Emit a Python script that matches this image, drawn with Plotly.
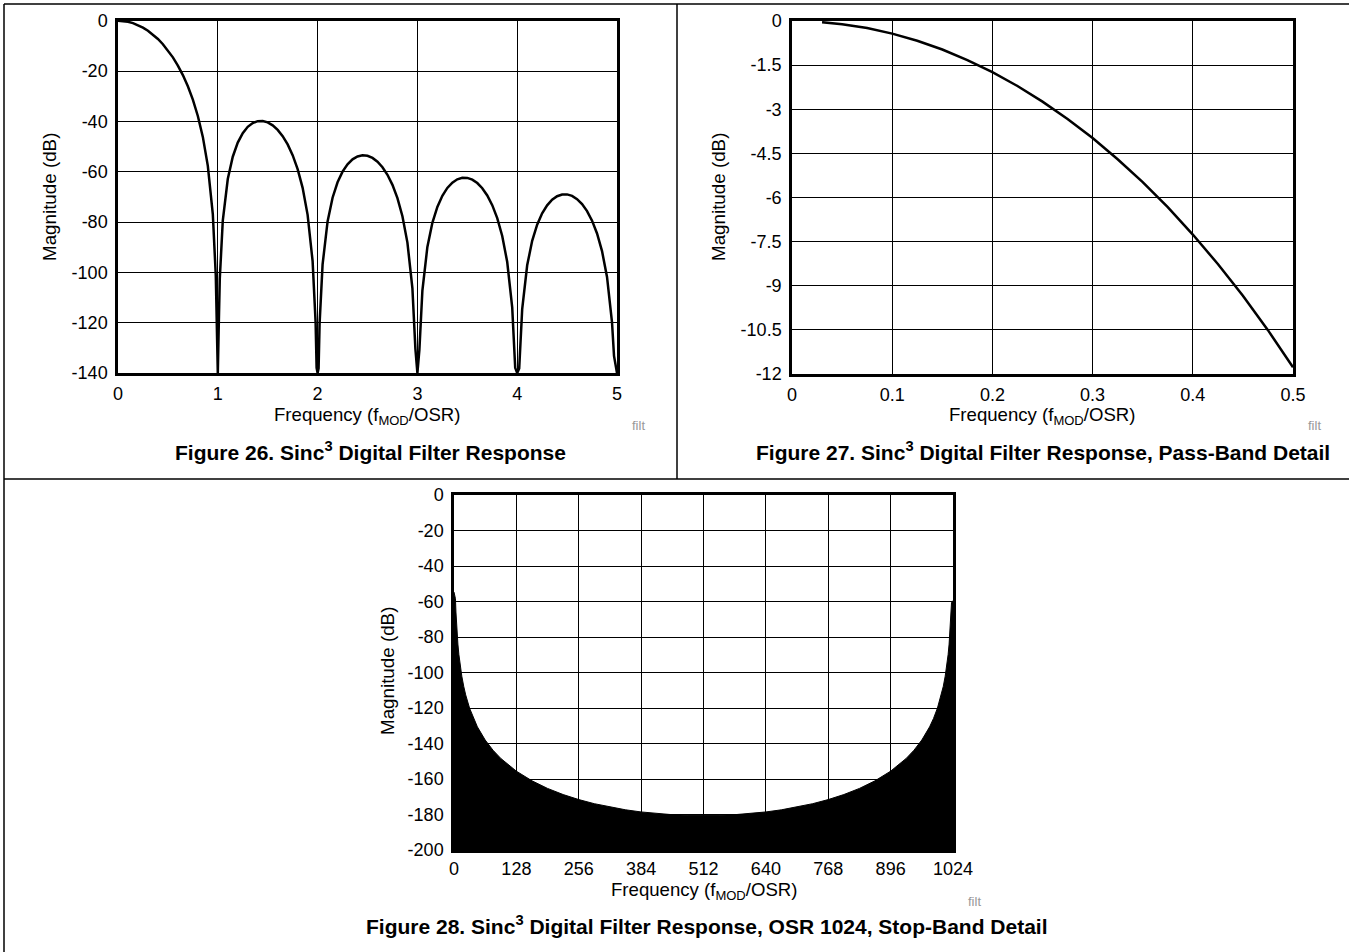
import plotly.graph_objects as go

# ---------------- data ----------------
# Figure 26: Sinc^3 response, 0..5 x (fMOD/OSR), dB (clipped at -140)
f26_freq = [0, 0.05, 0.1, 0.15, 0.2, 0.25, 0.3, 0.35, 0.4, 0.45, 0.5, 0.55, 0.6, 0.65, 0.7, 0.75,
            0.8, 0.85, 0.9, 0.95, 0.98, 0.99, 1.0,
            1.01, 1.02, 1.05, 1.1, 1.15, 1.2, 1.25, 1.3, 1.35, 1.4, 1.45, 1.5, 1.55, 1.6, 1.65, 1.7,
            1.75, 1.8, 1.85, 1.9, 1.95, 1.98, 1.99, 2.0,
            2.01, 2.02, 2.05, 2.1, 2.15, 2.2, 2.25, 2.3, 2.35, 2.4, 2.45, 2.5, 2.55, 2.6, 2.65, 2.7,
            2.75, 2.8, 2.85, 2.9, 2.95, 2.98, 3.0,
            3.02, 3.05, 3.1, 3.15, 3.2, 3.25, 3.3, 3.35, 3.4, 3.45, 3.5, 3.55, 3.6, 3.65, 3.7, 3.75,
            3.8, 3.85, 3.9, 3.95, 3.98, 4.0,
            4.02, 4.05, 4.1, 4.15, 4.2, 4.25, 4.3, 4.35, 4.4, 4.45, 4.5, 4.55, 4.6, 4.65, 4.7, 4.75,
            4.8, 4.85, 4.9, 4.95, 4.97, 5.0]
f26_mag = [0, -0.11, -0.43, -0.97, -1.74, -2.74, -3.98, -5.48, -7.26, -9.34, -11.77, -14.57, -17.83,
           -21.61, -26.06, -31.36, -37.86, -46.17, -57.68, -76.83, -101.43, -119.75, -140,
           -120.27, -102.47, -79.44, -62.91, -54.05, -48.43, -44.67, -42.18, -40.66, -39.91, -39.83,
           -40.39, -41.57, -43.39, -45.89, -49.18, -53.44, -58.99, -66.44, -77.15, -95.57, -119.76,
           -137.94, -140,
           -138.20, -120.28, -96.87, -79.76, -70.35, -64.22, -59.99, -57.05, -55.10, -53.95, -53.50,
           -53.70, -54.54, -56.04, -58.23, -61.23, -65.22, -70.51, -77.70, -88.17, -106.36, -130.41,
           -140,
           -130.76, -107.23, -89.91, -80.31, -73.99, -69.57, -66.46, -64.34, -63.03, -62.42, -62.47,
           -63.16, -64.52, -66.58, -69.44, -73.30, -78.46, -85.54, -95.89, -113.96, -137.95, -140,
           -138.21, -114.62, -97.20, -87.49, -81.07, -76.56, -73.36, -71.15, -69.75, -69.05, -69.02,
           -69.63, -70.90, -72.89, -75.67, -79.46, -84.55, -91.55, -101.84, -119.84, -133.19, -140]

# Figure 27: pass-band detail
f27_freq = [0.03, 0.05, 0.075, 0.1, 0.125, 0.15, 0.175, 0.2, 0.225, 0.25, 0.275, 0.3, 0.325,
            0.35, 0.375, 0.4, 0.425, 0.45, 0.475, 0.5]
f27_mag = [-0.04, -0.11, -0.24, -0.43, -0.67, -0.97, -1.33, -1.74, -2.21, -2.74, -3.33, -3.98,
           -4.70, -5.48, -6.33, -7.26, -8.26, -9.34, -10.51, -11.77]

# Figure 28: OSR 1024 stop-band detail (upper envelope of the dense nulls, filled below)
f28_freq = [0, 3, 4, 5, 6, 8, 10, 12, 16, 20, 24, 32, 40, 48, 64, 80, 96, 128, 160, 192, 224,
            256, 288, 320, 352, 384, 416, 448, 480, 512, 544, 576, 608, 640, 672, 704, 736, 768,
            800, 832, 864, 896, 928, 944, 960, 976, 984, 992, 1000, 1004, 1008, 1012, 1014, 1016,
            1018, 1019, 1020, 1021, 1024]
f28_env = [-54.7, -58.46, -65.95, -71.77, -76.52, -84.01, -89.83, -94.58, -102.07, -107.88,
           -112.62, -120.10, -125.89, -130.61, -138.03, -143.75, -148.39, -155.59, -161.02,
           -165.30, -168.76, -171.59, -173.91, -175.81, -177.35, -178.56, -179.47, -180.11,
           -180.49, -180.62, -180.49, -180.11, -179.47, -178.56, -177.35, -175.81, -173.91,
           -171.59, -168.76, -165.30, -161.02, -155.59, -148.39, -143.75, -138.03, -130.61,
           -125.89, -120.10, -112.62, -107.88, -102.07, -94.58, -89.83, -84.01, -76.52, -71.77,
           -65.95, -60.5, -59.5]

# ticks
x26_ticks = [0, 1, 2, 3, 4, 5]
x26_labels = ["0", "1", "2", "3", "4", "5"]
y26_ticks = [0, -20, -40, -60, -80, -100, -120, -140]
y26_labels = ["0", "-20", "-40", "-60", "-80", "-100", "-120", "-140"]
x27_ticks = [0, 0.1, 0.2, 0.3, 0.4, 0.5]
x27_labels = ["0", "0.1", "0.2", "0.3", "0.4", "0.5"]
y27_ticks = [0, -1.5, -3, -4.5, -6, -7.5, -9, -10.5, -12]
y27_labels = ["0", "-1.5", "-3", "-4.5", "-6", "-7.5", "-9", "-10.5", "-12"]
x28_ticks = [0, 128, 256, 384, 512, 640, 768, 896, 1024]
x28_labels = ["0", "128", "256", "384", "512", "640", "768", "896", "1024"]
y28_ticks = [0, -20, -40, -60, -80, -100, -120, -140, -160, -180, -200]
y28_labels = ["0", "-20", "-40", "-60", "-80", "-100", "-120", "-140", "-160", "-180", "-200"]

captions = ["Figure 26. Sinc<sup>3</sup> Digital Filter Response",
            "Figure 27. Sinc<sup>3</sup> Digital Filter Response, Pass-Band Detail",
            "Figure 28. Sinc<sup>3</sup> Digital Filter Response, OSR 1024, Stop-Band Detail"]
x_title = "Frequency (f<sub>MOD</sub>/OSR)"
y_title = "Magnitude (dB)"

# ---------------- layout helpers ----------------
W, H = 1349, 952
FONT = "Liberation Sans, Arial, Helvetica, sans-serif"


def px(x):
    return x / W


def py(y):
    return 1 - y / H


fig = go.Figure()

line_style = dict(color="black", width=2.5)
fig.add_trace(go.Scatter(x=f26_freq, y=f26_mag, mode="lines", line=line_style,
                         xaxis="x", yaxis="y", showlegend=False, hoverinfo="skip"))
fig.add_trace(go.Scatter(x=f27_freq, y=f27_mag, mode="lines", line=line_style,
                         xaxis="x2", yaxis="y2", showlegend=False, hoverinfo="skip"))
y28_floor = y28_ticks[-1]
fig.add_trace(go.Scatter(x=f28_freq, y=[y28_floor] * len(f28_freq), mode="lines",
                         line=dict(color="black", width=0), xaxis="x3", yaxis="y3",
                         showlegend=False, hoverinfo="skip"))
fig.add_trace(go.Scatter(x=f28_freq, y=f28_env, mode="lines", line=dict(color="black", width=1),
                         fill="tonexty", fillcolor="black",
                         xaxis="x3", yaxis="y3", showlegend=False, hoverinfo="skip"))


def axis(domain, rng, tv, tt, anchor, standoff):
    return dict(domain=domain, range=rng, tickvals=tv, ticktext=tt, anchor=anchor,
                automargin=False,
                showline=True, mirror=True, linecolor="black", linewidth=2.5,
                showgrid=True, gridcolor="black", gridwidth=1, zeroline=False,
                ticks="", ticklabelstandoff=standoff,
                tickfont=dict(family=FONT, size=18, color="black"), fixedrange=True)


fig.update_layout(
    width=W, height=H, autosize=False, margin=dict(l=0, r=0, t=0, b=0, pad=0, autoexpand=False),
    paper_bgcolor="white", plot_bgcolor="white",
    xaxis=axis([px(118), px(617)], [0, 5], x26_ticks, x26_labels, "y", 3),
    yaxis=axis([py(373), py(20.7)], [-140, 0], y26_ticks, y26_labels, "x", 4),
    xaxis2=axis([px(792), px(1293)], [0, 0.5], x27_ticks, x27_labels, "y2", 3),
    yaxis2=axis([py(374), py(21)], [-12, 0], y27_ticks, y27_labels, "x2", 4),
    xaxis3=axis([px(454), px(953)], [0, 1024], x28_ticks, x28_labels, "y3", 1),
    yaxis3=axis([py(850), py(495)], [-200, 0], y28_ticks, y28_labels, "x3", 4),
)

ann = []
# x-axis titles
for cx, cy in [(367, 416), (1042, 416), (704, 891)]:
    ann.append(dict(x=px(cx), y=py(cy), xref="paper", yref="paper", text=x_title,
                    showarrow=False, xanchor="center", yanchor="middle",
                    font=dict(family=FONT, size=18.6, color="black")))
# y-axis titles
for cx, cy in [(50, 197), (719, 197), (387, 671)]:
    ann.append(dict(x=px(cx), y=py(cy), xref="paper", yref="paper", text=y_title,
                    showarrow=False, xanchor="center", yanchor="middle", textangle=-90,
                    font=dict(family=FONT, size=18.8, color="black")))
# captions
for (cx, cy), cap in zip([(370, 451), (1043, 451), (707, 925)], captions):
    ann.append(dict(x=px(cx), y=py(cy), xref="paper", yref="paper", text="<b>" + cap + "</b>",
                    showarrow=False, xanchor="center", yanchor="middle",
                    font=dict(family=FONT, size=21, color="black")))
# small "filt" tags
for cx, cy in [(638, 426), (1314, 426), (974, 901)]:
    ann.append(dict(x=px(cx), y=py(cy), xref="paper", yref="paper", text="filt",
                    showarrow=False, xanchor="center", yanchor="middle",
                    font=dict(family=FONT, size=13, color="#999999")))
fig.update_layout(annotations=ann)

# page frame lines
bl = dict(color="black", width=1.5)
shapes = [
    dict(type="line", xref="paper", yref="paper", x0=px(4), x1=1, y0=py(4), y1=py(4), line=bl),
    dict(type="line", xref="paper", yref="paper", x0=px(4), x1=px(4), y0=py(4), y1=0, line=bl),
    dict(type="line", xref="paper", yref="paper", x0=px(677), x1=px(677), y0=py(4), y1=py(479), line=bl),
    dict(type="line", xref="paper", yref="paper", x0=px(4), x1=1, y0=py(479), y1=py(479), line=bl),
]
fig.update_layout(shapes=shapes)

fig.write_html("out.html", config={"displayModeBar": False, "responsive": False},
               post_script="document.body.style.margin='0';document.body.style.padding='0';"
                           "document.documentElement.style.overflow='hidden';")
